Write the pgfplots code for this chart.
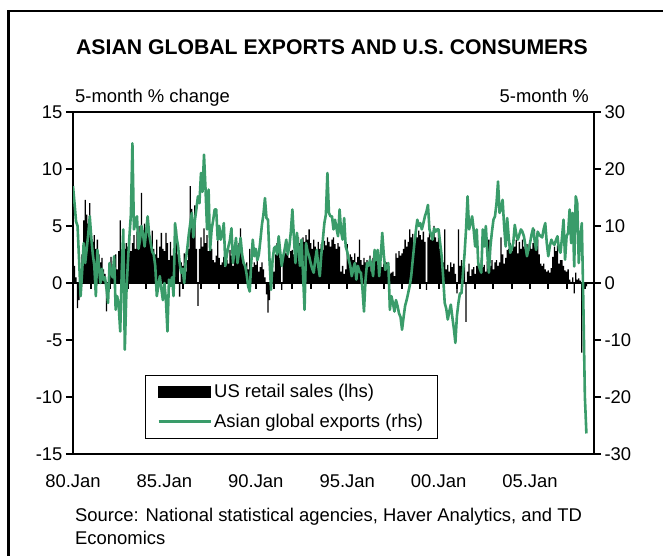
\documentclass[border=0pt]{standalone}
\usepackage{pgfplots}
\pgfplotsset{compat=1.18}
\usepackage{pgfplotstable}
\usepackage{fontspec}
\setmainfont{Liberation Sans}
\definecolor{asia}{RGB}{58,156,106}
\newcommand{\fs}{\fontsize{18.5}{22}\selectfont}

\pgfplotstableread[row sep=\\]{
m us asia\\
0 2.0 17.0\\ 1 1.5 14.0\\ 2 0.5 10.8\\ 3 -2.2 10.0\\ 4 -1.5 4.0\\ 5 -0.8 -2.3\\ 6 2.5 2.0\\ 7 5.5 7.0\\ 8 7.3 3.5\\ 9 6.0 6.0\\ 10 5.2 8.5\\ 11 7.0 11.7\\
12 4.5 8.0\\ 13 3.6 5.0\\ 14 4.2 3.0\\ 15 3.0 -2.3\\ 16 3.8 5.8\\ 17 2.5 3.0\\ 18 1.8 0.0\\ 19 2.2 2.5\\ 20 1.2 0.5\\ 21 0.8 1.0\\ 22 -2.5 -1.0\\ 23 -1.0 -3.5\\
24 1.5 3.5\\ 25 2.3 2.0\\ 26 0.8 1.0\\ 27 2.0 4.7\\ 28 2.5 -4.7\\ 29 1.2 -2.3\\ 30 2.8 -4.0\\ 31 5.5 -8.5\\ 32 2.0 2.0\\ 33 3.8 9.4\\ 34 3.0 -11.7\\ 35 3.5 -2.0\\
36 3.2 3.5\\ 37 4.0 8.0\\ 38 2.8 12.0\\ 39 3.5 24.5\\ 40 4.2 9.4\\ 41 3.0 10.5\\ 42 4.5 11.7\\ 43 3.8 6.0\\ 44 5.0 7.6\\ 45 7.9 10.0\\ 46 4.6 8.5\\ 47 5.2 6.4\\
48 4.8 9.0\\ 49 5.8 11.7\\ 50 4.2 8.5\\ 51 3.5 7.0\\ 52 4.6 5.5\\ 53 3.0 5.0\\ 54 2.5 3.0\\ 55 3.8 -2.3\\ 56 2.2 -0.5\\ 57 3.2 1.2\\ 58 4.4 -1.0\\ 59 3.0 -3.0\\
60 2.8 0.0\\ 61 4.4 -3.0\\ 62 3.5 -8.5\\ 63 2.0 0.6\\ 64 3.6 -0.5\\ 65 2.4 1.0\\ 66 3.0 -2.3\\ 67 4.0 10.5\\ 68 4.7 8.0\\ 69 2.5 6.4\\ 70 -1.2 3.5\\ 71 1.8 1.8\\
72 1.5 2.5\\ 73 2.6 0.0\\ 74 1.0 4.0\\ 75 2.0 6.0\\ 76 3.0 8.5\\ 77 8.5 10.5\\ 78 6.5 12.3\\ 79 5.0 8.0\\ 80 6.8 11.0\\ 81 3.0 13.0\\ 82 -2.0 15.2\\ 83 3.0 14.0\\
84 4.0 19.3\\ 85 3.2 16.0\\ 86 4.8 22.5\\ 87 3.5 16.4\\ 88 4.2 9.4\\ 89 2.8 16.4\\ 90 3.6 5.8\\ 91 3.0 9.4\\ 92 2.0 11.0\\ 93 1.8 12.9\\ 94 2.4 12.9\\ 95 4.0 7.6\\
96 2.2 10.0\\ 97 1.6 7.6\\ 98 1.8 8.5\\ 99 2.3 10.5\\ 100 1.4 3.0\\ 101 2.0 5.0\\ 102 1.7 6.4\\ 103 2.9 7.5\\ 104 2.4 9.6\\ 105 1.5 3.5\\ 106 2.6 5.5\\ 107 3.0 7.9\\
108 2.5 3.5\\ 109 3.5 5.5\\ 110 4.8 7.9\\ 111 3.0 5.0\\ 112 1.7 3.5\\ 113 1.5 3.0\\ 114 1.8 1.5\\ 115 1.2 -0.6\\ 116 3.0 -1.5\\ 117 2.0 3.5\\ 118 1.4 7.6\\ 119 1.8 4.7\\
120 1.6 6.0\\ 121 2.3 4.0\\ 122 1.0 5.0\\ 123 1.4 7.5\\ 124 1.8 10.2\\ 125 1.2 12.0\\ 126 0.5 14.9\\ 127 -1.0 11.4\\ 128 -2.6 11.1\\ 129 -1.5 4.0\\ 130 0.4 -1.2\\ 131 1.0 4.0\\
132 1.0 6.1\\ 133 2.5 6.4\\ 134 3.5 5.0\\ 135 3.0 8.2\\ 136 2.2 5.5\\ 137 -0.6 3.0\\ 138 2.0 4.7\\ 139 3.4 6.0\\ 140 2.6 7.6\\ 141 2.9 5.0\\ 142 2.2 6.4\\ 143 2.8 9.0\\
144 2.9 12.9\\ 145 2.5 8.0\\ 146 3.2 3.5\\ 147 2.8 8.8\\ 148 4.0 6.0\\ 149 3.5 3.0\\ 150 3.0 7.6\\ 151 4.0 1.5\\ 152 3.6 -4.7\\ 153 4.2 7.0\\ 154 3.8 5.5\\ 155 4.7 4.7\\
156 3.5 3.5\\ 157 3.0 2.5\\ 158 3.8 1.8\\ 159 3.2 4.0\\ 160 2.8 5.8\\ 161 3.6 3.0\\ 162 3.0 1.2\\ 163 3.4 5.0\\ 164 2.9 7.6\\ 165 3.7 10.5\\ 166 3.3 12.0\\ 167 4.0 19.3\\
168 3.6 12.3\\ 169 3.2 11.7\\ 170 3.8 11.7\\ 171 4.0 9.4\\ 172 3.4 11.1\\ 173 3.0 9.5\\ 174 3.5 8.2\\ 175 3.2 12.9\\ 176 1.0 9.0\\ 177 1.5 7.6\\ 178 0.8 11.4\\ 179 1.2 6.4\\
180 3.4 5.5\\ 181 2.0 4.1\\ 182 2.5 3.0\\ 183 2.3 1.2\\ 184 2.0 2.5\\ 185 2.6 3.5\\ 186 1.8 0.6\\ 187 2.3 3.0\\ 188 3.8 2.0\\ 189 2.0 1.8\\ 190 1.6 -1.0\\ 191 2.2 -5.0\\
192 1.8 0.5\\ 193 2.0 3.5\\ 194 1.5 3.0\\ 195 2.4 4.1\\ 196 1.0 3.0\\ 197 2.2 1.2\\ 198 2.9 5.8\\ 199 2.5 4.0\\ 200 2.9 5.8\\ 201 1.6 1.2\\ 202 1.7 4.5\\ 203 1.4 8.8\\
204 1.7 5.0\\ 205 1.2 2.3\\ 206 1.8 3.0\\ 207 1.5 3.5\\ 208 0.8 -4.7\\ 209 0.9 -2.3\\ 210 1.0 -3.5\\ 211 0.6 -5.0\\ 212 2.6 -3.0\\ 213 2.2 -4.0\\ 214 2.8 -5.3\\ 215 2.4 -6.0\\
216 2.6 -8.2\\ 217 3.0 -6.0\\ 218 3.8 -4.0\\ 219 3.2 -3.0\\ 220 3.6 -1.8\\ 221 4.7 -0.5\\ 222 4.0 1.2\\ 223 4.3 4.0\\ 224 3.5 6.7\\ 225 4.5 9.0\\ 226 4.0 11.1\\ 227 4.6 10.0\\
228 4.2 10.5\\ 229 3.8 9.4\\ 230 4.5 10.5\\ 231 3.6 11.7\\ 232 -0.6 12.5\\ 233 4.0 13.7\\ 234 4.4 9.4\\ 235 3.8 8.5\\ 236 4.2 7.6\\ 237 5.0 9.6\\ 238 4.0 9.0\\ 239 3.6 9.4\\
240 4.5 9.4\\ 241 3.0 7.0\\ 242 1.5 4.7\\ 243 1.8 1.0\\ 244 4.7 -3.5\\ 245 1.2 -4.5\\ 246 1.6 -6.4\\ 247 1.0 -5.0\\ 248 1.8 -3.8\\ 249 1.4 -6.0\\ 250 1.7 -8.0\\ 251 0.8 -10.5\\
252 -0.9 -5.8\\ 253 4.7 -3.5\\ 254 1.5 -1.8\\ 255 2.0 -1.8\\ 256 1.0 1.8\\ 257 1.6 5.0\\ 258 -3.4 9.4\\ 259 1.0 15.2\\ 260 1.7 9.4\\ 261 0.6 10.5\\ 262 1.2 11.7\\ 263 1.4 9.4\\
264 0.8 6.4\\ 265 1.5 9.4\\ 266 1.8 3.5\\ 267 1.2 2.5\\ 268 2.0 1.8\\ 269 1.4 9.4\\ 270 1.6 6.4\\ 271 1.0 10.0\\ 272 1.9 5.0\\ 273 3.8 1.8\\ 274 1.5 6.4\\ 275 2.0 9.0\\
276 1.2 11.1\\ 277 1.8 11.7\\ 278 2.0 14.0\\ 279 1.5 17.8\\ 280 1.8 12.3\\ 281 4.0 13.0\\ 282 2.5 14.6\\ 283 1.7 10.0\\ 284 2.2 6.4\\ 285 2.9 11.4\\ 286 3.0 8.0\\ 287 3.5 5.3\\
288 2.8 6.0\\ 289 3.5 7.0\\ 290 3.2 10.2\\ 291 3.8 8.5\\ 292 2.6 7.6\\ 293 3.6 8.5\\ 294 3.0 9.4\\ 295 3.8 9.0\\ 296 3.2 8.2\\ 297 3.0 6.5\\ 298 3.4 4.7\\ 299 2.8 6.0\\
300 3.3 7.0\\ 301 3.0 8.5\\ 302 3.5 9.6\\ 303 4.7 7.5\\ 304 3.2 5.8\\ 305 3.8 9.0\\ 306 2.5 8.5\\ 307 1.7 8.2\\ 308 1.5 8.0\\ 309 1.7 9.5\\ 310 1.2 10.5\\ 311 1.0 7.0\\
312 1.1 4.7\\ 313 0.9 6.5\\ 314 1.3 7.6\\ 315 2.3 7.0\\ 316 3.2 6.7\\ 317 2.8 7.5\\ 318 3.3 8.2\\ 319 1.7 6.0\\ 320 2.0 5.3\\ 321 2.0 8.0\\ 322 1.5 11.1\\ 323 1.1 4.1\\
324 1.0 8.2\\ 325 1.2 8.8\\ 326 0.3 12.9\\ 327 0.1 7.0\\ 328 0.5 12.3\\ 329 -0.9 2.9\\ 330 0.9 15.2\\ 331 0.3 14.0\\ 332 0.4 3.5\\ 333 0.2 8.0\\ 334 -6.1 10.5\\ 335 -1.8 -3.5\\
336 -0.3 -19.9\\ 337 -0.3 -26.4\\
}\datatable

\begin{document}
\begin{tikzpicture}
\useasboundingbox (0bp,0bp) rectangle (663bp,556bp);
\draw[line width=2.8bp] (8.5bp,-5bp) -- (8.5bp,545bp) -- (670bp,545bp);
\node[font=\bfseries\fontsize{21.3}{25}\selectfont] at (332bp,509bp) {ASIAN GLOBAL EXPORTS AND U.S. CONSUMERS};
\node[anchor=base west, font=\fs, inner sep=0pt] at (75bp,453bp) {5-month \% change};
\node[anchor=base east, font=\fs, inner sep=0pt] at (589bp,453bp) {5-month \%};
\node[anchor=base west, font=\fs, inner sep=0pt] at (75bp,35bp) {Source: National statistical agencies, Haver Analytics, and TD};
\node[anchor=base west, font=\fs, inner sep=0pt] at (75bp,12bp) {Economics};

\begin{axis}[
  at={(73bp,102bp)}, anchor=south west, scale only axis,
  width=521bp, height=342bp,
  xmin=0, xmax=342, ymin=-15, ymax=15, enlargelimits=false,
  axis line style={line width=2.5bp},
  ytick={-15,-10,...,15}, ytick pos=left,
  xtick={0,60,120,180,240,300},
  xticklabels={80.Jan,85.Jan,90.Jan,95.Jan,00.Jan,05.Jan}, xtick pos=bottom,
  tick align=outside, major tick length=7bp,
  tick style={line width=2bp, black},
  x tick style={draw=none},
  tick label style={font=\fs},
  xticklabel style={yshift=-10bp},
  /pgf/number format/assume math mode=true,
]
\addplot[ybar, bar width=0.85, fill=black, draw=none] table[x=m, y=us]{\datatable};
\draw[line width=2bp] (axis cs:0,0) -- (axis cs:342,0);
\pgfplotsinvokeforeach{0,12,...,336}{\draw[line width=2bp] (axis cs:#1,0) -- ++(0bp,-6bp);}
\end{axis}

\begin{axis}[
  at={(73bp,102bp)}, anchor=south west, scale only axis,
  width=521bp, height=342bp,
  xmin=0, xmax=342, ymin=-30, ymax=30, enlargelimits=false,
  axis x line=none, axis y line*=right,
  axis line style={line width=2.5bp},
  ytick={-30,-20,...,30},
  tick align=outside, major tick length=7bp,
  tick style={line width=2bp, black},
  tick label style={font=\fs},
  /pgf/number format/assume math mode=true,
  legend cell align=left,
  legend style={at={(0.138,0.231)}, anchor=north west, draw=black, line width=0.8bp,
    fill=white, font=\fs, inner xsep=12bp, inner ysep=9bp, row sep=15bp,
    nodes={inner xsep=2.5bp, inner ysep=0pt}},
]
\addlegendimage{legend image code/.code={\fill[black] (0bp,-5.5bp) rectangle (52bp,5.5bp);}}
\addlegendentry{US retail sales (lhs)}
\addplot[asia, line width=2.6bp, line join=round,
  legend image code/.code={\draw[asia, line width=2.4bp] (0bp,0bp) -- (52bp,0bp);}]
  table[x=m, y=asia]{\datatable};
\addlegendentry{Asian global exports (rhs)}
\end{axis}
\end{tikzpicture}
\end{document}
